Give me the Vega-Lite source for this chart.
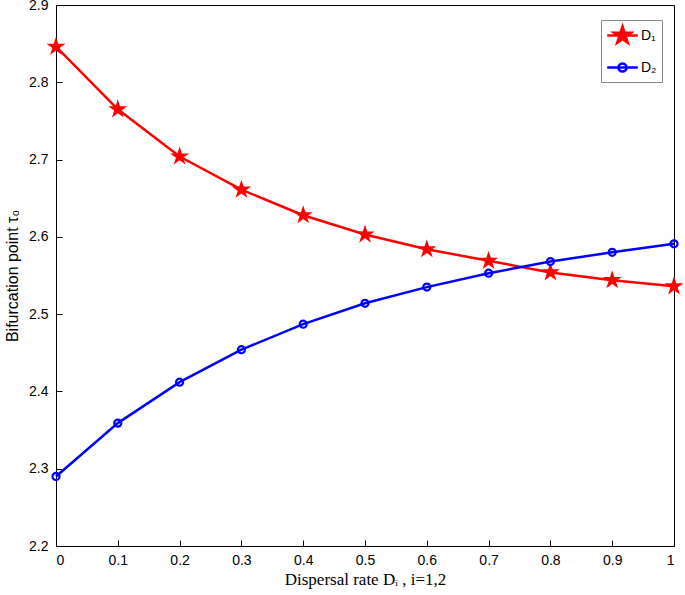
{
  "width": 618,
  "height": 541,
  "autosize": "none",
  "padding": {"left": 56, "top": 5, "right": 11, "bottom": 49},
  "background": "white",
  "config": {
    "view": {"stroke": "black", "strokeWidth": 1},
    "axis": {
      "grid": false,
      "domainColor": "black",
      "tickColor": "black",
      "labelColor": "black",
      "titleColor": "black",
      "labelFont": "Liberation Sans",
      "labelFontSize": 14,
      "tickWidth": 1
    }
  },
  "data": {
    "values": [
      {"rate": 0.0, "series": "D1", "tau": 2.846},
      {"rate": 0.1, "series": "D1", "tau": 2.765},
      {"rate": 0.2, "series": "D1", "tau": 2.704},
      {"rate": 0.3, "series": "D1", "tau": 2.661},
      {"rate": 0.4, "series": "D1", "tau": 2.628},
      {"rate": 0.5, "series": "D1", "tau": 2.603},
      {"rate": 0.6, "series": "D1", "tau": 2.584},
      {"rate": 0.7, "series": "D1", "tau": 2.569},
      {"rate": 0.8, "series": "D1", "tau": 2.554},
      {"rate": 0.9, "series": "D1", "tau": 2.544},
      {"rate": 1.0, "series": "D1", "tau": 2.536},
      {"rate": 0.0, "series": "D2", "tau": 2.290},
      {"rate": 0.1, "series": "D2", "tau": 2.359},
      {"rate": 0.2, "series": "D2", "tau": 2.412},
      {"rate": 0.3, "series": "D2", "tau": 2.454},
      {"rate": 0.4, "series": "D2", "tau": 2.487},
      {"rate": 0.5, "series": "D2", "tau": 2.514},
      {"rate": 0.6, "series": "D2", "tau": 2.535},
      {"rate": 0.7, "series": "D2", "tau": 2.553},
      {"rate": 0.8, "series": "D2", "tau": 2.568},
      {"rate": 0.9, "series": "D2", "tau": 2.580},
      {"rate": 1.0, "series": "D2", "tau": 2.591}
    ]
  },
  "layer": [
    {
      "transform": [{"filter": "datum.series == 'D1'"}],
      "mark": {"type": "line", "strokeWidth": 2.5},
      "encoding": {
        "x": {
          "field": "rate", "type": "quantitative",
          "scale": {"domain": [0, 1], "nice": false},
          "axis": {
            "values": [0, 0.1, 0.2, 0.3, 0.4, 0.5, 0.6, 0.7, 0.8, 0.9, 1],
            "format": "~g",
            "tickSize": -6,
            "labelPadding": 13,
            "title": "Dispersal rate Dᵢ , i=1,2",
            "titleFont": "Liberation Serif",
            "titleFontSize": 17,
            "titleFontWeight": "normal",
            "titlePadding": 4
          }
        },
        "y": {
          "field": "tau", "type": "quantitative",
          "scale": {"domain": [2.2, 2.9], "nice": false, "zero": false},
          "axis": {
            "values": [2.2, 2.3, 2.4, 2.5, 2.6, 2.7, 2.8, 2.9],
            "format": ".1f",
            "tickSize": -6,
            "labelPadding": 14,
            "title": "Bifurcation point τ₀",
            "titleFont": "Liberation Sans",
            "titleFontSize": 16,
            "titleFontWeight": "normal",
            "titlePadding": 8
          }
        },
        "color": {
          "field": "series", "type": "nominal",
          "scale": {"domain": ["D1", "D2"], "range": ["#ff0000", "#0000ff"]},
          "legend": {
            "orient": "none",
            "legendX": 545,
            "legendY": 15,
            "title": null,
            "fillColor": "white",
            "strokeColor": "#888888",
            "padding": 5,
            "labelFont": "Liberation Sans",
            "labelFontSize": 14,
            "labelColor": "black",
            "labelExpr": "datum.value == 'D1' ? 'D₁' : 'D₂'",
            "symbolSize": 324,
            "symbolOffset": 6,
            "labelOffset": 8,
            "rowPadding": 9,
            "symbolStrokeWidth": 2.5,
            "encode": {
              "symbols": {
                "update": {
                  "shape": {"signal": "datum.value == 'D1' ? 'M-1.7,0H1.7M0,-1L0.2245,-0.309L0.951,-0.309L0.363,0.118L0.588,0.809L0,0.382L-0.588,0.809L-0.363,0.118L-0.951,-0.309L-0.2245,-0.309Z' : 'M-1.7,0H1.7M-0.45,0A0.45,0.45 0 1,0 0.45,0A0.45,0.45 0 1,0 -0.45,0'"},
                  "fill": {"signal": "datum.value == 'D1' ? '#ff0000' : 'transparent'"},
                  "stroke": {"signal": "datum.value == 'D1' ? '#ff0000' : '#0000ff'"},
                  "opacity": {"value": 1}
                }
              }
            }
          }
        }
      }
    },
    {
      "transform": [{"filter": "datum.series == 'D1'"}],
      "mark": {"type": "point", "shape": "M0,-1L0.2245,-0.309L0.951,-0.309L0.363,0.118L0.588,0.809L0,0.382L-0.588,0.809L-0.363,0.118L-0.951,-0.309L-0.2245,-0.309Z", "filled": true, "size": 400, "color": "#ff0000", "opacity": 1},
      "encoding": {
        "x": {"field": "rate", "type": "quantitative"},
        "y": {"field": "tau", "type": "quantitative"}
      }
    },
    {
      "transform": [{"filter": "datum.series == 'D2'"}],
      "mark": {"type": "line", "strokeWidth": 2.5},
      "encoding": {
        "x": {"field": "rate", "type": "quantitative"},
        "y": {"field": "tau", "type": "quantitative"},
        "color": {"field": "series", "type": "nominal"}
      }
    },
    {
      "transform": [{"filter": "datum.series == 'D2'"}],
      "mark": {"type": "point", "shape": "circle", "filled": false, "size": 50, "color": "#0000ff", "strokeWidth": 2.2, "opacity": 1},
      "encoding": {
        "x": {"field": "rate", "type": "quantitative"},
        "y": {"field": "tau", "type": "quantitative"}
      }
    }
  ]
}
